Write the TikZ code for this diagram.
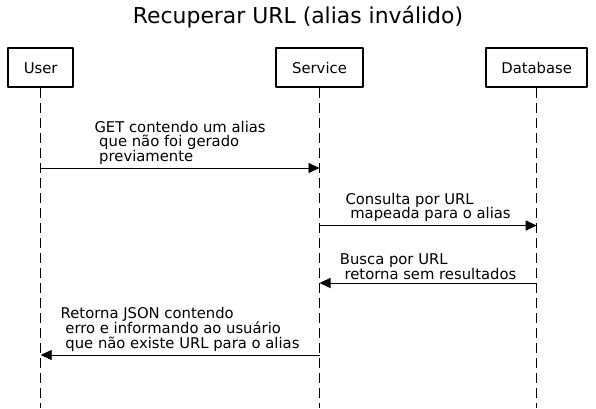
\documentclass[tikz,border=0pt]{standalone}
\usepackage{fontspec}
\setmainfont{DejaVu Sans}
\usetikzlibrary{arrows.meta}
\begin{document}
\begin{tikzpicture}[x=1pt,y=-1pt,>={Triangle[length=11pt,width=10pt]}, line join=round,
		font=\fontsize{14.8}{14.6}\selectfont]
	\def\ybot{408} % fim das linhas de vida
	\tikzset{actor/.style={draw,line width=2.2pt,minimum height=39pt,inner xsep=0pt},
		life/.style={dash pattern=on 10pt off 5pt,line width=0.9pt},
		msg/.style={->,line width=0.9pt},
		note/.style={align=left,anchor=south,inner sep=0pt}}
	\useasboundingbox (0,0) rectangle (596,408);
	\node (title) at (298,17) {\fontsize{21.9}{24}\selectfont Recuperar URL (alias inválido)};
	\node[actor,minimum width=65pt] (user) at (40.7,67.8) {User};
	\node[actor,minimum width=87pt] (service) at (319.5,67.8) {Service};
	\node[actor,minimum width=101pt] (db) at (536.7,67.8) {Database};
	\coordinate (userEnd) at (user.south |- 0,\ybot);
	\coordinate (serviceEnd) at (service.south |- 0,\ybot);
	\coordinate (dbEnd) at (db.south |- 0,\ybot);
	\draw[life] (user.south)--(userEnd);
	\draw[life] (service.south)--(serviceEnd);
	\draw[life] (db.south)--(dbEnd);
	% mensagens
	\coordinate (u1) at (user.south |- 0,168);
	\coordinate (s1) at (service.south |- 0,168);
	\draw[msg] (u1)--(s1) node[note,midway,yshift=3pt] {GET contendo um alias\\\ que não foi gerado\\\ previamente};
	\coordinate (s2) at (service.south |- 0,225.5);
	\coordinate (d2) at (db.south |- 0,225.5);
	\draw[msg] (s2)--(d2) node[note,midway,yshift=3pt] {Consulta por URL\\\ mapeada para o alias};
	\coordinate (d3) at (db.south |- 0,283);
	\coordinate (s3) at (service.south |- 0,283);
	\draw[msg] (d3)--(s3) node[note,midway,yshift=3pt] {Busca por URL\\\ retorna sem resultados};
	\coordinate (s4) at (service.south |- 0,355);
	\coordinate (u4) at (user.south |- 0,355);
	\draw[msg] (s4)--(u4) node[note,midway,yshift=3pt] {Retorna JSON contendo\\\ erro e informando ao usuário\\\ que não existe URL para o alias};
\end{tikzpicture}
\end{document}
